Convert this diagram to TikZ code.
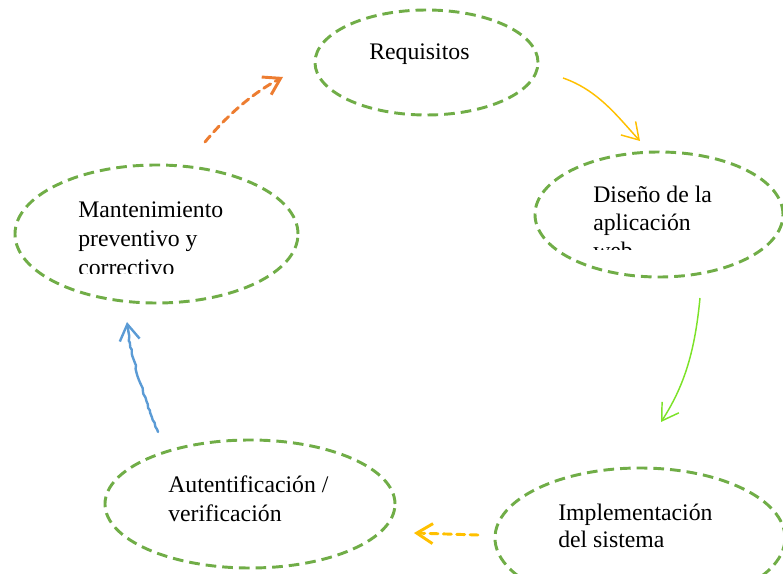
\documentclass[tikz,border=0pt]{standalone}
\usepackage{fontspec}
\setmainfont{Liberation Serif}
\usetikzlibrary{shapes.geometric,arrows.meta,decorations.pathmorphing}
\definecolor{ellgreen}{RGB}{112,173,71}
\definecolor{arrorange}{RGB}{237,125,49}
\definecolor{arryellow}{RGB}{255,192,0}
\definecolor{arrlime}{RGB}{124,226,40}
\definecolor{arrblue}{RGB}{91,155,213}
\begin{document}
\begin{tikzpicture}[x=0.75pt,y=-0.75pt,
  phase/.style={ellipse,draw=ellgreen,line width=2.2pt,dash pattern=on 8pt off 4.5pt,inner sep=0pt},
  lbl/.style={anchor=base west,inner sep=0pt,font=\fontsize{17.8}{21}\selectfont,text=black},
  headA/.style={-{Straight Barb[length=12pt,width=15pt]}},
  thinarrow/.style={line width=1.1pt,headA},
  thickdash/.style={line width=2.2pt,line cap=round,dash pattern=on 6pt off 4pt,headA},
  blueline/.style={draw=arrblue,line width=1.8pt,line cap=round,line join=round}]
\useasboundingbox (0,0) rectangle (783,574);
\clip (0,0) rectangle (783,574);

% ellipses
\node[phase,minimum width=167.25pt,minimum height=78.75pt] (req) at (426.5,62.5) {};
\node[phase,minimum width=186pt,minimum height=93.75pt] (dis) at (659,214.5) {};
\node[phase,minimum width=212.25pt,minimum height=103.5pt] (man) at (156.5,234) {};
\node[phase,minimum width=217.5pt,minimum height=96pt] (aut) at (250,504) {};
\node[phase,minimum width=217.5pt,minimum height=105pt] (imp) at (640,538) {};

% texts
\node[lbl] (treq) at (369,60) {Requisitos};
\node[lbl] (tdis1) at (593,203) {Diseño de la};
\node[lbl] (tdis2) at (593,231) {aplicación};
\begin{scope}
  \clip (560,150) rectangle (783,249.5);
  \node[lbl] (tdis3) at (593,259) {web};
\end{scope}
\node[lbl] (tman1) at (78,218) {Mantenimiento};
\node[lbl] (tman2) at (78,247) {preventivo y};
\begin{scope}
  \clip (40,250) rectangle (290,273.5);
  \node[lbl] (tman3) at (78,276) {correctivo};
\end{scope}
\node[lbl] (taut1) at (168,493) {Autentificación /};
\node[lbl] (taut2) at (168,521) {verificación};
\node[lbl] (timp1) at (558,520) {Implementación};
\node[lbl] (timp2) at (558,547) {del sistema};

% connector end points
\coordinate (o1) at (205,142);
\coordinate (o2) at (283,77);
\coordinate (y1) at (563,78);
\coordinate (y2) at (640,141);
\coordinate (g1) at (700,298);
\coordinate (g2) at (661,422);
\coordinate (d1) at (478,535);
\coordinate (d2) at (414,533);
\coordinate (b1) at (158,432);
\coordinate (bpre) at (128.5,332);
\coordinate (b2) at (127,322);

% connectors
\draw[thickdash,draw=arrorange] (o1) .. controls (230,112) and (255,92) .. (o2);
\draw[thinarrow,draw=arryellow] (y1) .. controls (598,90) and (618,117) .. (y2);
\draw[thinarrow,draw=arrlime] (g1) .. controls (695,350) and (685,385) .. (g2);
\draw[thickdash,draw=arryellow] (d1) -- (d2);
\draw[blueline,decorate,decoration={random steps,segment length=2.5pt,amplitude=0.7pt}]
  (b1) .. controls (145,400) and (132,362) .. (bpre);
\draw[blueline,-{Straight Barb[length=12pt,width=15pt]}] (bpre) -- (b2);
\end{tikzpicture}
\end{document}
